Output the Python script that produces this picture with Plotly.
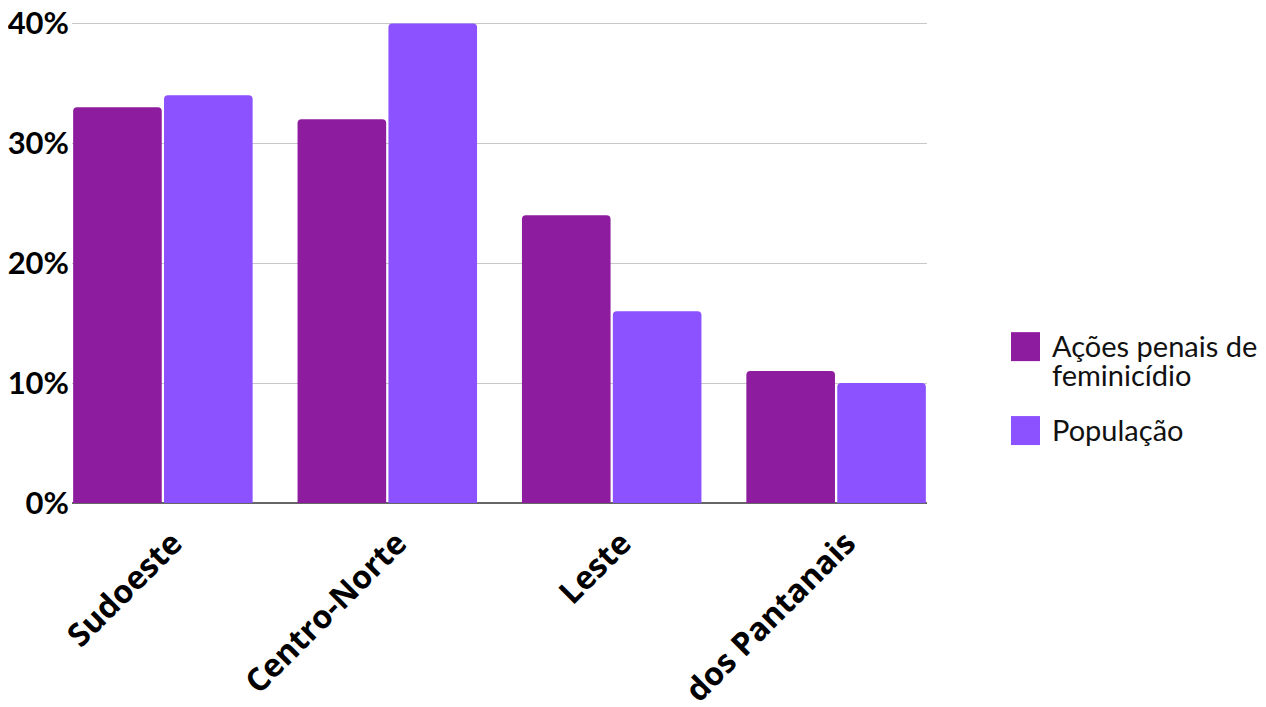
import plotly.graph_objects as go

categories = ["Sudoeste", "Centro-Norte", "Leste", "dos Pantanais"]
acoes = [33, 32, 24, 11]
populacao = [34, 40, 16, 10]
series_names = ["Ações penais de feminicídio", "População"]
legend_labels = ["Ações penais de<br>feminicídio", "População"]
colors = ["#8E1C9E", "#8C52FF"]
y_ticks = [0, 10, 20, 30, 40]
y_tick_labels = ["0%", "10%", "20%", "30%", "40%"]

# page body has an 8px margin; target positions are in window pixels
OFF = 8
W, H = 1266 - OFF, 707 - OFF
Y_MAX = 40.2
PX_PER_UNIT = 12.0
PLOT_L, PLOT_R, PLOT_B = 72 - OFF, 927 - OFF, 503 - OFF
PLOT_T = PLOT_B - Y_MAX * PX_PER_UNIT
pw, ph = PLOT_R - PLOT_L, PLOT_B - PLOT_T

def px_x(x):
    return (x - OFF - PLOT_L) / pw

def px_y(y):
    return (PLOT_B - (y - OFF)) / ph

fig = go.Figure()
for name, vals, col in zip(series_names, [acoes, populacao], colors):
    fig.add_trace(go.Bar(
        x=categories, y=vals, name=name,
        marker=dict(color=col, line=dict(width=0), cornerradius=4),
        showlegend=False,
    ))

# manual legend (large swatches)
sw_centers = [346.5, 430.5]
text_centers = [359.5, 429]
for lab, col, cy, ty in zip(legend_labels, colors, sw_centers, text_centers):
    fig.add_shape(type="rect", xref="paper", yref="paper",
                  x0=px_x(1011), x1=px_x(1040), y0=px_y(cy + 14.5), y1=px_y(cy - 14.5),
                  fillcolor=col, line=dict(width=0))
    fig.add_annotation(xref="paper", yref="paper", x=px_x(1050), y=px_y(ty),
                       text=f"<span style='font-size:29px'>{lab}</span>",
                       showarrow=False, xanchor="left", yanchor="middle",
                       align="left",
                       font=dict(family="Lato", size=22.3, color="#111111"))

fig.update_layout(
    width=W, height=H,
    margin=dict(l=PLOT_L, r=W - PLOT_R, t=PLOT_T, b=H - PLOT_B),
    paper_bgcolor="white", plot_bgcolor="white",
    barmode="group", bargap=0.19, bargroupgap=0.025,
    xaxis=dict(
        range=[-0.405, 3.405], tickangle=-45, automargin=False,
        tickfont=dict(family="Open Sans", size=32, color="#000000", weight="bold"),
        showgrid=False, showline=False, ticks="",
        ticklabelshift=10, ticklabelstandoff=14, ticklabeloverflow="allow",
    ),
    yaxis=dict(
        range=[0, Y_MAX], tickvals=y_ticks, ticktext=y_tick_labels, automargin=False,
        tickfont=dict(family="Lato", size=31, color="#000000", weight="bold"),
        showgrid=True, gridcolor="#c8c8c8", gridwidth=1,
        zeroline=True, zerolinecolor="#666666", zerolinewidth=1.5,
        ticks="", ticklabelstandoff=2, ticklabeloverflow="allow",
    ),
)
fig.write_html("out.html")
